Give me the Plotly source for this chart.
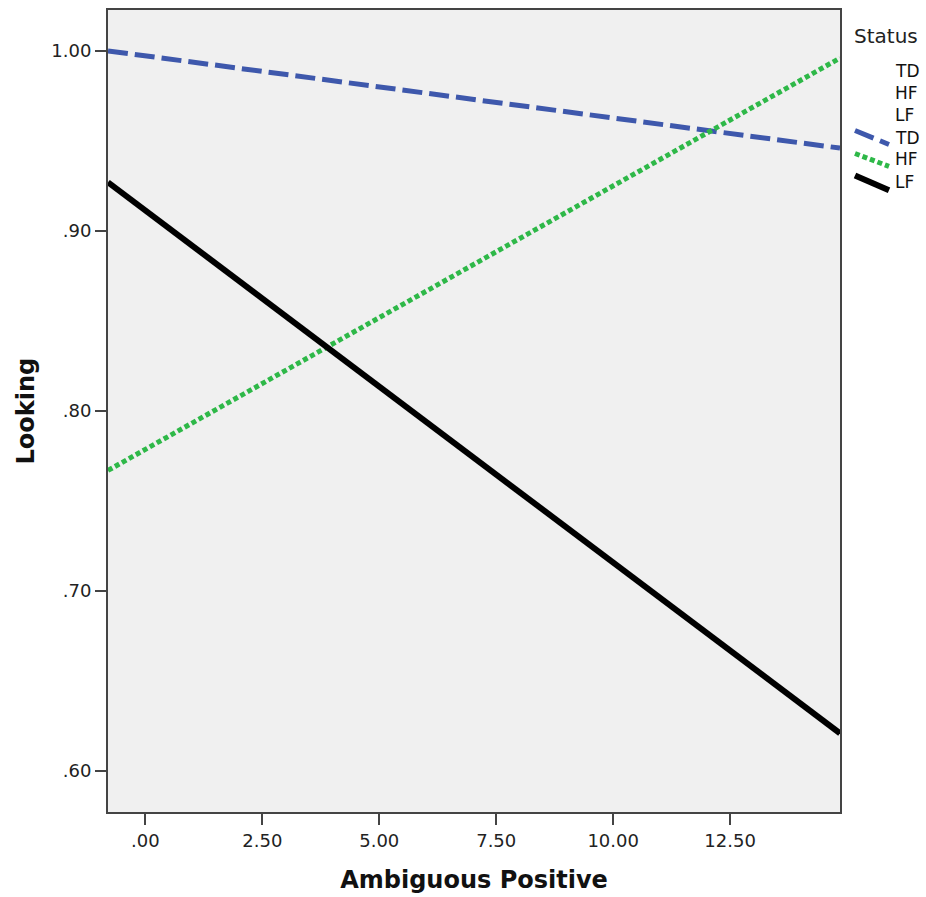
import plotly.graph_objects as go

# Data (fit lines)
x_range = [-0.8, 14.85]
td_y = [1.000, 0.946]
hf_y = [0.767, 0.996]
lf_y = [0.927, 0.621]
series_names = ["TD", "HF", "LF"]
x_ticks = [0, 2.5, 5, 7.5, 10, 12.5]
x_tick_labels = [".00", "2.50", "5.00", "7.50", "10.00", "12.50"]
y_ticks = [0.6, 0.7, 0.8, 0.9, 1.0]
y_tick_labels = [".60", ".70", ".80", ".90", "1.00"]

BLUE = "#3E58AC"
GREEN = "#2EB848"
BLACK = "#000000"
FONT = "DejaVu Sans"

W, H = 926, 897
L, R, T, B = 108, 840, 8, 813
PW, PH = R - L, B - T

def px(xp):
    return (xp - L) / PW

def py(yp):
    return (B - yp) / PH

fig = go.Figure()
fig.add_trace(go.Scatter(x=x_range, y=td_y, mode="lines", name="TD",
                         line=dict(color=BLUE, width=5, dash="20px,7px"), showlegend=False))
fig.add_trace(go.Scatter(x=x_range, y=hf_y, mode="lines", name="HF",
                         line=dict(color=GREEN, width=5, dash="5px,3px"), showlegend=False))
fig.add_trace(go.Scatter(x=x_range, y=lf_y, mode="lines", name="LF",
                         line=dict(color=BLACK, width=6), showlegend=False))

annotations = []
shapes = []
annotations.append(dict(text="Status", x=px(852), y=py(34), xref="paper", yref="paper",
                        xanchor="left", yanchor="middle", showarrow=False,
                        font=dict(family=FONT, size=20, color="#222")))
label_ys = [69, 91, 113, 136, 158, 181]
for i, yy in enumerate(label_ys):
    annotations.append(dict(text=series_names[i % 3], x=px(893), y=py(yy), xref="paper", yref="paper",
                            xanchor="left", yanchor="middle", showarrow=False,
                            font=dict(family=FONT, size=17, color="#111")))
annotations.append(dict(text="<b>Looking</b>", x=px(26), y=py(411), xref="paper", yref="paper",
                        xanchor="center", yanchor="middle", showarrow=False, textangle=-90,
                        font=dict(family=FONT, size=24, color="#111")))
legend_lines = [
    (BLUE, 5, "20px,7px", 129, 143),
    (GREEN, 5, "5px,3px", 152, 165),
    (BLACK, 6, "solid", 174, 189),
]
for col, w, d, y0, y1 in legend_lines:
    shapes.append(dict(type="line", xref="paper", yref="paper",
                       x0=px(855), y0=py(y0), x1=px(889), y1=py(y1),
                       line=dict(color=col, width=w, dash=d)))

fig.update_layout(
    width=W, height=H,
    margin=dict(l=L, r=W - R, t=T, b=H - B, pad=0),
    paper_bgcolor="white",
    plot_bgcolor="#F0F0F0",
    font=dict(family=FONT, color="#222"),
    annotations=annotations,
    shapes=shapes,
    showlegend=False,
)
fig.update_xaxes(range=x_range, tickvals=x_ticks, ticktext=x_tick_labels,
                 showgrid=False, zeroline=False, showline=True, mirror=True,
                 linecolor="#444", linewidth=2, ticks="outside", ticklen=11, tickwidth=2,
                 tickcolor="#444", tickfont=dict(family=FONT, size=18, color="#222"),
                 title=dict(text="<b>Ambiguous Positive</b>", font=dict(family=FONT, size=24, color="#111"),
                            standoff=22))
fig.update_yaxes(range=[0.5773, 1.0227], tickvals=y_ticks, ticktext=y_tick_labels,
                 showgrid=False, zeroline=False, showline=True, mirror=True,
                 linecolor="#444", linewidth=2, ticks="outside", ticklen=11, tickwidth=2,
                 tickcolor="#444", tickfont=dict(family=FONT, size=18, color="#222"))

fig.write_html("out.html", config={"displayModeBar": False},
               post_script="document.body.style.margin='0';document.body.style.overflow='hidden';")
